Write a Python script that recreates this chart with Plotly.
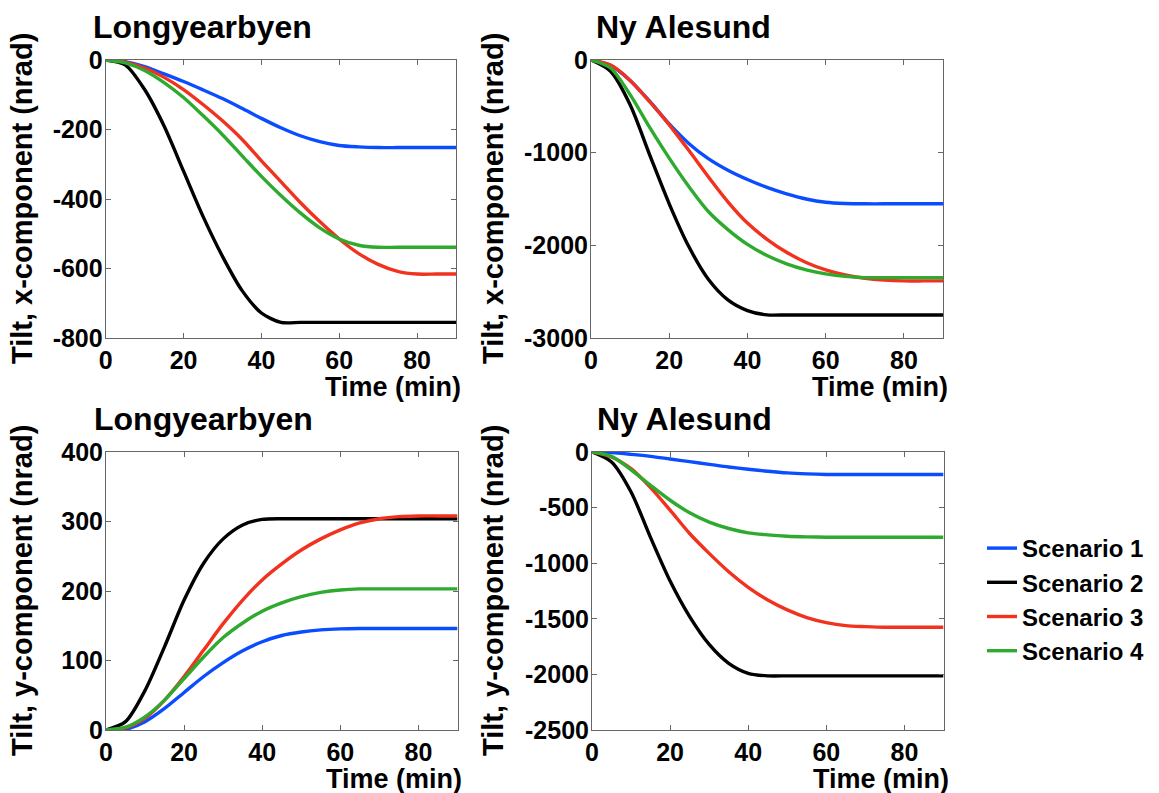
import plotly.graph_objects as go

# ---------------- data ----------------
time_min = [0, 5, 10, 15, 20, 25, 30, 35, 40, 45, 50, 55, 60, 65, 70, 75, 80, 85, 90]
scenario_names = ["Scenario 1", "Scenario 2", "Scenario 3", "Scenario 4"]

# Longyearbyen, x-component (nrad)
lyb_x_s1 = [0, -5, -19, -40, -62, -86, -111, -139, -168, -195, -218, -235, -246, -250, -252, -252, -252, -252, -252]
lyb_x_s2 = [0, -14, -85, -190, -320, -450, -565, -663, -728, -755, -755, -755, -755, -755, -755, -755, -755, -755, -755]
lyb_x_s3 = [0, -6, -23, -50, -85, -128, -175, -228, -290, -350, -410, -465, -515, -557, -588, -608, -616, -616, -616]
lyb_x_s4 = [0, -8, -30, -65, -108, -160, -215, -275, -335, -390, -440, -483, -515, -533, -539, -539, -539, -539, -539]

# Ny Alesund, x-component (nrad)
nya_x_s1 = [0, -58, -220, -445, -690, -900, -1065, -1190, -1290, -1375, -1445, -1500, -1535, -1548, -1552, -1552, -1552, -1552, -1552]
nya_x_s2 = [0, -122, -483, -1023, -1552, -2013, -2366, -2589, -2704, -2751, -2751, -2751, -2751, -2751, -2751, -2751, -2751, -2751, -2751]
nya_x_s3 = [0, -55, -220, -450, -700, -975, -1260, -1530, -1760, -1935, -2075, -2185, -2265, -2320, -2355, -2375, -2384, -2384, -2384]
nya_x_s4 = [0, -86, -374, -727, -1059, -1365, -1635, -1830, -1990, -2110, -2200, -2265, -2308, -2335, -2348, -2348, -2348, -2348, -2348]

# Longyearbyen, y-component (nrad)
lyb_y_s1 = [0, 1, 12, 31, 54, 77, 97, 114, 127, 136, 141, 144, 145.5, 146, 146, 146, 146, 146, 146]
lyb_y_s2 = [0, 12, 57, 120, 187, 240, 275, 295, 303, 304, 304, 304, 304, 304, 304, 304, 304, 304, 304]
lyb_y_s3 = [0, 3, 17, 43, 77, 115, 153, 187, 216, 239, 259, 275, 288, 298, 304, 307, 308, 308, 308]
lyb_y_s4 = [0, 4, 19, 43, 74, 105, 133, 154, 171, 183, 192, 198, 201.5, 203, 203, 203, 203, 203, 203]

# Ny Alesund, y-component (nrad)
nya_y_s1 = [0, -6, -21, -39, -63, -87, -111, -135, -155, -173, -188, -197, -202, -203, -203, -203, -203, -203, -203]
nya_y_s2 = [0, -90, -360, -770, -1160, -1480, -1730, -1900, -1990, -2013, -2013, -2013, -2013, -2013, -2013, -2013, -2013, -2013, -2013]
nya_y_s3 = [0, -45, -150, -320, -523, -733, -912, -1077, -1217, -1331, -1420, -1489, -1534, -1561, -1570, -1576, -1576, -1576, -1576]
nya_y_s4 = [0, -39, -160, -300, -434, -547, -631, -688, -727, -745, -757, -763, -766, -766, -766, -766, -766, -766, -766]

x_ticks = [0, 20, 40, 60, 80]
x_tick_labels = ["0", "20", "40", "60", "80"]
lyb_x_ticks = [-800, -600, -400, -200, 0]
lyb_x_labels = ["-800", "-600", "-400", "-200", "0"]
nya_x_ticks = [-3000, -2000, -1000, 0]
nya_x_labels = ["-3000", "-2000", "-1000", "0"]
lyb_y_ticks = [0, 100, 200, 300, 400]
lyb_y_labels = ["0", "100", "200", "300", "400"]
nya_y_ticks = [-2500, -2000, -1500, -1000, -500, 0]
nya_y_labels = ["-2500", "-2000", "-1500", "-1000", "-500", "0"]

panel_titles = ["Longyearbyen", "Ny Alesund", "Longyearbyen", "Ny Alesund"]
ylabels = ["Tilt, x-component (nrad)", "Tilt, x-component (nrad)",
           "Tilt, y-component (nrad)", "Tilt, y-component (nrad)"]
xlabel = "Time (min)"

# ---------------- styling ----------------
W, H = 1159, 793
colors = ["#0a4dff", "#000000", "#f0321e", "#2eaa2e"]
FONT = "Liberation Sans, Arial, Helvetica, sans-serif"

panels = [
    dict(data=[lyb_x_s1, lyb_x_s2, lyb_x_s3, lyb_x_s4], yr=[-800, 0], yt=lyb_x_ticks, yl=lyb_x_labels,
         px=(105.7, 456.0), py=(60.0, 338.0), tx=92),
    dict(data=[nya_x_s1, nya_x_s2, nya_x_s3, nya_x_s4], yr=[-3000, 0], yt=nya_x_ticks, yl=nya_x_labels,
         px=(591.0, 943.0), py=(60.0, 338.0), tx=595),
    dict(data=[lyb_y_s1, lyb_y_s2, lyb_y_s3, lyb_y_s4], yr=[0, 400], yt=lyb_y_ticks, yl=lyb_y_labels,
         px=(106.0, 457.5), py=(452.0, 730.0), tx=93),
    dict(data=[nya_y_s1, nya_y_s2, nya_y_s3, nya_y_s4], yr=[-2500, 0], yt=nya_y_ticks, yl=nya_y_labels,
         px=(592.0, 943.5), py=(452.0, 730.0), tx=596),
]

fig = go.Figure()
layout = dict(
    width=W, height=H, margin=dict(l=0, r=0, t=0, b=0, autoexpand=False),
    paper_bgcolor="white", plot_bgcolor="white",
    font=dict(family=FONT, color="black", weight="bold"),
    showlegend=True,
    legend=dict(x=982 / W, y=1 - 526 / H, xanchor="left", yanchor="top",
                font=dict(family=FONT, size=24, color="black", weight="bold"),
                bgcolor="rgba(0,0,0,0)", borderwidth=0, tracegroupgap=0),
)
annotations = []

def px2x(p):
    return p / W

def py2y(p):
    return 1 - p / H

for i, p in enumerate(panels):
    n = i + 1
    xa = "x" if n == 1 else f"x{n}"
    ya = "y" if n == 1 else f"y{n}"
    for k, (series, name) in enumerate(zip(p["data"], scenario_names)):
        fig.add_trace(go.Scatter(
            x=time_min, y=series, mode="lines", name=name,
            line=dict(color=colors[k], width=3.4, shape="spline", smoothing=0.8),
            xaxis=xa, yaxis=ya, showlegend=(n == 4),
        ))
    x0, x1 = p["px"]
    y0, y1 = p["py"]
    axis_common = dict(showline=True, linecolor="#666666", linewidth=1, mirror="ticks",
                       ticks="inside", ticklen=5, tickcolor="#666666", tickwidth=1,
                       showgrid=False, zeroline=False, automargin=False,
                       tickfont=dict(family=FONT, size=25, color="black", weight="bold"))
    layout["xaxis" if n == 1 else f"xaxis{n}"] = dict(
        domain=[px2x(x0), px2x(x1)], range=[0, 90], tickvals=x_ticks, ticktext=x_tick_labels,
        anchor=ya, ticklabelstandoff=0, **axis_common)
    layout["yaxis" if n == 1 else f"yaxis{n}"] = dict(
        domain=[py2y(y1), py2y(y0)], range=p["yr"], tickvals=p["yt"], ticktext=p["yl"],
        anchor=xa, ticklabelstandoff=-3, **axis_common)

    # panel title
    annotations.append(dict(text=panel_titles[i], xref="paper", yref="paper",
                            x=px2x(p["tx"] - 1), y=py2y(y0 - 33), xanchor="left", yanchor="middle",
                            showarrow=False, font=dict(family=FONT, size=32, color="black", weight="bold")))
    # x-axis title
    annotations.append(dict(text=xlabel, xref="paper", yref="paper",
                            x=px2x(x1 + 7), y=py2y(y1 + 49), xanchor="right", yanchor="middle",
                            showarrow=False, font=dict(family=FONT, size=27, color="black", weight="bold")))
    # y-axis title
    ycx = 22 if i % 2 == 0 else 493
    annotations.append(dict(text=ylabels[i], xref="paper", yref="paper",
                            x=px2x(ycx), y=py2y((y0 + y1) / 2), xanchor="center", yanchor="middle",
                            textangle=-90, showarrow=False,
                            font=dict(family=FONT, size=29, color="black", weight="bold")))

layout["annotations"] = annotations
fig.update_layout(**layout)
fig.write_html("out.html", config={"displayModeBar": False},
               post_script="document.body.style.margin='0px';")
